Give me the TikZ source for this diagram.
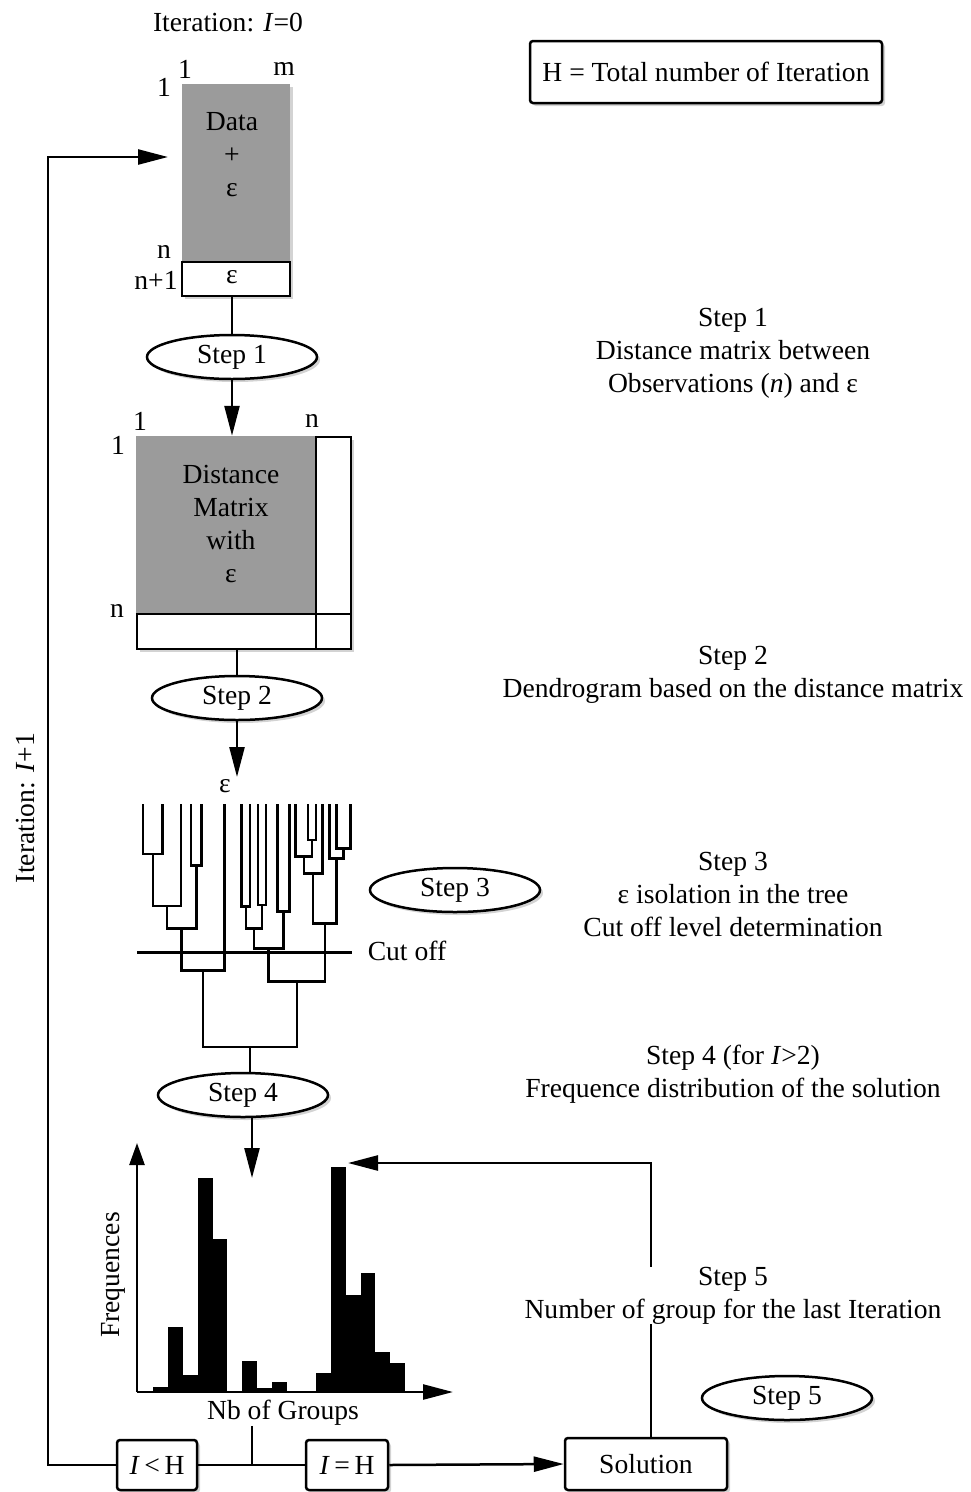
\documentclass[tikz,border=0pt]{standalone}
\usepackage{fontspec}
\setmainfont{Liberation Serif}
\usetikzlibrary{arrows.meta,shapes.geometric,shadows,calc}
\definecolor{boxgray}{RGB}{155,155,155}
\newcommand{\djn}[5]{\draw[dl] (#1,#2) |- (#3,#5) -- (#3,#4);}
\begin{document}
\begin{tikzpicture}[x=1pt,y=-1pt,
  every node/.style={font=\fontsize{27.6}{33}\selectfont, inner sep=0pt},
  shd/.style={drop shadow={opacity=0.35,shadow xshift=3pt,shadow yshift=-3pt}},
  ln/.style={line width=2.5pt},
  dl/.style={line width=2.5pt, line join=miter},
  arr/.style={line width=2.5pt,-{Triangle[length=30pt,width=15pt]}},
  axarr/.style={line width=2.5pt,-{Triangle[length=22pt,width=15pt]}},
  stepell/.style={ellipse, draw, line width=2.5pt, fill=white, minimum width=170pt, minimum height=44pt, shd},
  boxnode/.style={draw, line width=2.5pt, fill=white, rounded corners=3pt, shd},
  desc/.style={align=center}
]
\useasboundingbox (0,0) rectangle (971,1492);

% top label and H box
\node (it0) at (228,23) {Iteration: \textit{I}=0};
\node[boxnode, minimum width=352pt, minimum height=62pt] (hbox) at (706,72) {H = Total number of Iteration};

% data matrix
\node[fill=boxgray, minimum width=108pt, minimum height=178pt, shd] (data) at (236,173) {};
\node[draw, line width=2.5pt, fill=white, minimum width=108pt, minimum height=34pt, shd] (dataeps) at (236,279) {};
\node (dataepst) at (232,277) {ε};
\node[desc] (datatxt) at (232,155) {Data\\+\\ε};
\node (dc1) at (185,69) {1};
\node (dcm) at (284,69) {m};
\node (dr1) at (164,87) {1};
\node (drn) at (164,252) {n};
\node (drn1) at (156,280) {n+1};

% step 1
\node[stepell] (s1) at (232,357) {Step 1};
\draw[ln] (dataeps.south -| s1.north) -- (s1.north);

% distance matrix
\node[draw, line width=2.5pt, fill=white, minimum width=214pt, minimum height=212pt, shd] (dm) at (244,543) {};
\coordinate (dmcorner) at (316,614);
\draw[ln] (dmcorner |- dm.north) -- (dmcorner |- dm.south);
\draw[ln] (dmcorner -| dm.west) -- (dmcorner -| dm.east);
\node[fill=boxgray, minimum width=179.5pt, minimum height=177.5pt] (dmg) at (225.25,524.5) {};
\node[desc] (dmtxt) at (231,524) {Distance\\Matrix\\with\\ε};
\node (mc1) at (140,421) {1};
\node (mcn) at (312,421) {n};
\node (mr1) at (118,445) {1};
\node (mrn) at (117,611) {n};
\draw[arr] (s1.south) -- (s1.south |- dm.north);

% step 2
\node[stepell] (s2) at (237,698) {Step 2};
\draw[ln] (dm.south -| s2.north) -- (s2.north);
\coordinate (dtop) at (237,777);
\draw[arr] (s2.south) -- (dtop);
\node (epsl) at (225,786) {ε};

% dendrogram
\djn{143}{804}{162.5}{804}{854}
\djn{152.75}{854}{181}{804}{906}
\djn{191}{804}{201.5}{804}{865.7}
\djn{166.9}{906}{196.25}{865.7}{928.3}
\djn{181.6}{928.3}{224.5}{804}{970.7}
\djn{241.5}{804}{250}{804}{906.7}
\djn{258}{804}{266}{804}{905}
\djn{245.75}{906.7}{262}{905}{928.3}
\djn{277.5}{804}{289.5}{804}{911.7}
\djn{253.9}{928.3}{283.5}{911.7}{948.3}
\djn{308}{804}{316}{804}{840}
\djn{295.5}{804}{312}{840}{856.7}
\djn{303.75}{856.7}{322.5}{804}{873.3}
\djn{336.5}{804}{350.5}{804}{848.3}
\djn{329.5}{804}{343.5}{848.3}{858.3}
\djn{313.1}{873.3}{336.5}{858.3}{923.3}
\djn{268.7}{948.3}{324.8}{923.3}{981.7}
\djn{203}{970.7}{296.75}{981.7}{1047}
\coordinate (root) at (250,1047);
\coordinate (cutl) at (137,952.7);
\coordinate (cutr) at (352,952.7);
\draw[ln] (cutl) -- (cutr);
\node (cutoff) at (407,951) {Cut off};

% step 3, 4
\node[stepell] (s3) at (455,890) {Step 3};
\node[stepell] (s4) at (243,1095) {Step 4};
\draw[ln] (root) -- (root |- s4.north);
\coordinate (htop) at (252,1178);
\draw[arr] (s4.south -| htop) -- (htop);

% histogram
\coordinate (horig) at (137,1392);
\coordinate (yend) at (137,1143);
\coordinate (xend) at (453,1392);
\foreach \a/\b/\t in {153.3/168.1/1386.7, 168.1/182.9/1326.7, 182.9/197.7/1375, 197.7/212.5/1178.3, 212.5/227.3/1239.3, 242.1/256.9/1361, 256.9/271.7/1388.3, 271.7/286.5/1381.7, 316.1/330.9/1372.7, 330.9/345.7/1166.7, 345.7/360.5/1295, 360.5/375.3/1272.7, 375.3/390.1/1351.7, 390.1/404.9/1363.3}
  \fill (\a,1392) rectangle (\b,\t);
\draw[axarr] (horig) -- (yend);
\draw[arr] (horig) -- (xend);
\node[rotate=90] (freq) at (113,1275) {Frequences};
\node (nb) at (283,1413) {Nb of Groups};

% bottom row
\node[boxnode, minimum width=80pt, minimum height=50pt] (lt) at (157,1465) {\textit{I}\,<\,H};
\node[boxnode, minimum width=82pt, minimum height=50pt] (eq) at (347,1465) {\textit{I}\,=\,H};
\node[boxnode, minimum width=162pt, minimum height=52pt] (sol) at (646,1464) {Solution};
\coordinate (jn) at (252,1465);
\draw[ln] (nb.south -| jn) -- (jn);
\draw[ln] (lt.east) -- (eq.west);
\draw[arr] (eq.east) -- (sol.west);
\coordinate (lcorner) at (48,1465);
\coordinate (din) at (168,157);
\draw[arr] (lt.west) -- (lcorner) |- (din);
\coordinate (fb) at (348,1163);
\draw[arr] ([xshift=5pt]sol.north) |- (fb);
\node[rotate=90] (itlab) at (26,808) {Iteration: \textit{I}+1};

% step 5
\node[stepell] (s5) at (787,1398) {Step 5};

% descriptions
\node[desc] (d1) at (733,353) {Step 1\\Distance matrix between\\Observations (\textit{n}) and ε};
\node[desc] (d2) at (733,674.5) {Step 2\\Dendrogram based on the distance matrix};
\node[desc] (d3) at (733,894) {Step 3\\ε isolation in the tree\\Cut off level determination};
\node[desc] (d4) at (733,1074.5) {Step 4 (for \textit{I}>2)\\Frequence distribution of the solution};
\node[desc, fill=white] (d5) at (733,1295.5) {Step 5\\Number of group for the last Iteration};
\end{tikzpicture}
\end{document}
